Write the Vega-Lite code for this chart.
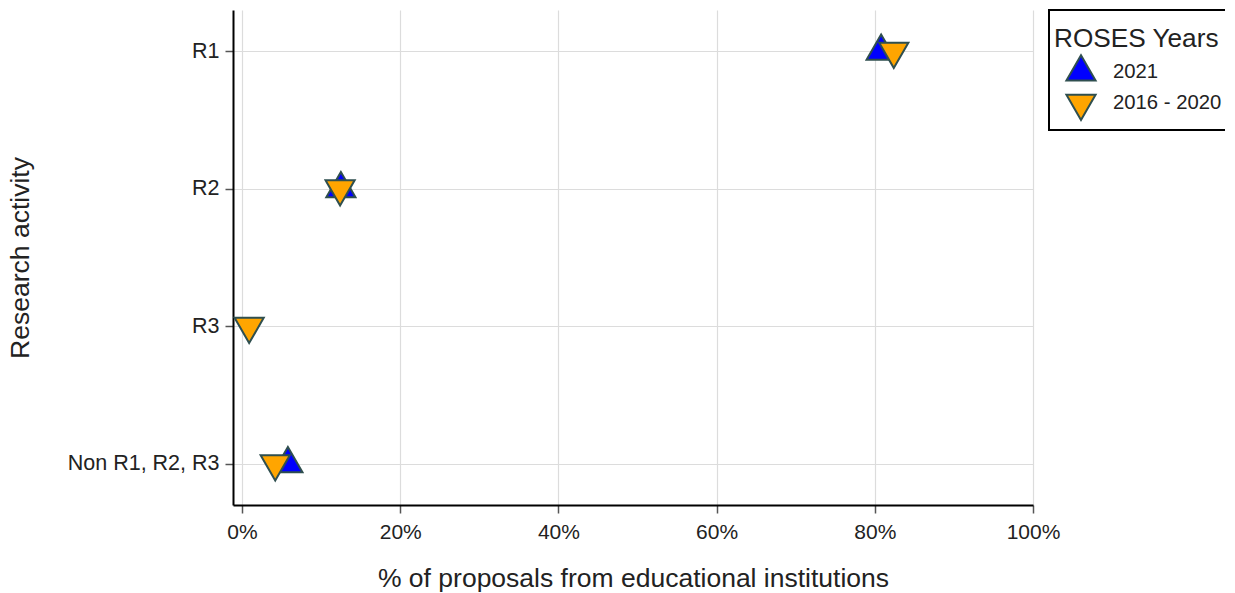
{
  "$schema": "https://vega.github.io/schema/vega-lite/v6.json",
  "autosize": {"type": "none"},
  "padding": {"left": 233, "top": 10, "right": 192, "bottom": 88},
  "width": 800,
  "height": 495,
  "background": "white",
  "config": {
    "font": "Liberation Sans",
    "view": {"stroke": null}
  },
  "data": {
    "values": [
      {"activity": "R1", "years": "2021", "pct": 80.8},
      {"activity": "R2", "years": "2021", "pct": 12.5},
      {"activity": "Non R1, R2, R3", "years": "2021", "pct": 5.8},
      {"activity": "R1", "years": "2016 - 2020", "pct": 82.4},
      {"activity": "R2", "years": "2016 - 2020", "pct": 12.4},
      {"activity": "R3", "years": "2016 - 2020", "pct": 0.9},
      {"activity": "Non R1, R2, R3", "years": "2016 - 2020", "pct": 4.2}
    ]
  },
  "mark": {"type": "point", "filled": true, "size": 850, "stroke": "#2F4F4F", "strokeWidth": 2, "opacity": 1},
  "encoding": {
    "x": {
      "field": "pct", "type": "quantitative",
      "scale": {"domain": [-1.14, 100], "nice": false, "zero": false},
      "axis": {
        "title": "% of proposals from educational institutions",
        "values": [0, 20, 40, 60, 80, 100],
        "labelExpr": "datum.label + '%'",
        "format": "d",
        "labelFlush": false,
        "labelFontSize": 21, "labelColor": "#222", "labelPadding": 8,
        "titleFontSize": 26.5, "titleFontWeight": "normal", "titleColor": "#222", "titlePadding": 23,
        "domainColor": "black", "domainWidth": 2,
        "tickColor": "#555", "tickSize": 8, "tickWidth": 1.5,
        "gridColor": "#dcdcdc", "gridWidth": 1.2
      }
    },
    "y": {
      "field": "activity", "type": "nominal",
      "sort": ["R1", "R2", "R3", "Non R1, R2, R3"],
      "scale": {"type": "point", "padding": 0.3},
      "axis": {
        "title": "Research activity",
        "labelFontSize": 21.5, "labelColor": "#222", "labelPadding": 6,
        "titleFontSize": 26.5, "titleFontWeight": "normal", "titleColor": "#222", "titlePadding": 33,
        "domainColor": "black", "domainWidth": 2,
        "tickColor": "#555", "tickSize": 8, "tickWidth": 1.5,
        "grid": true, "gridColor": "#dcdcdc", "gridWidth": 1.2
      }
    },
    "color": {
      "field": "years", "type": "nominal",
      "scale": {"domain": ["2021", "2016 - 2020"], "range": ["#0000FF", "#FFA500"]},
      "legend": {
        "title": "ROSES Years",
        "orient": "none", "legendX": 816, "legendY": 0,
        "padding": 5,
        "strokeColor": "black", "fillColor": "white",
        "titleFontSize": 26.2, "titleFontWeight": "normal", "titleColor": "#222", "titlePadding": 15,
        "labelFontSize": 20.3, "labelColor": "#222", "labelOffset": 16,
        "symbolSize": 850, "symbolStrokeColor": "#2F4F4F", "symbolStrokeWidth": 2, "symbolOpacity": 1,
        "symbolOffset": 11,
        "rowPadding": 2,
        "encode": {
          "legend": {"update": {"strokeWidth": {"value": 2}}},
          "title": {"update": {"dy": {"value": 11}}}
        }
      }
    },
    "shape": {
      "field": "years", "type": "nominal",
      "scale": {"domain": ["2021", "2016 - 2020"], "range": ["M0,-1.155L1,0.577L-1,0.577Z", "M0,1.155L1,-0.577L-1,-0.577Z"]},
      "legend": null
    }
  }
}
